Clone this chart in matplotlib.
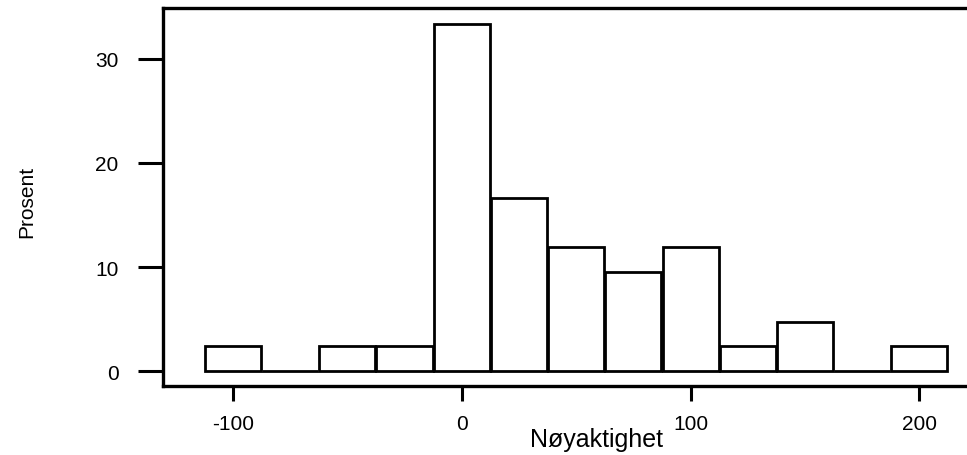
import matplotlib
matplotlib.use("Agg")
import matplotlib.pyplot as plt
import numpy as np

# bin midpoints (width 25) and percent of observations (n = 42)
midpoints = [-100, -75, -50, -25, 0, 25, 50, 75, 100, 125, 150, 175, 200]
percent = [2.38, 0, 2.38, 2.38, 33.33, 16.67, 11.90, 9.52, 11.90, 2.38, 4.76, 0, 2.38]
xticks = [-100, 0, 100, 200]
yticks = [0, 10, 20, 30]

plt.rcParams['font.family'] = ['Liberation Sans', 'DejaVu Sans']
plt.rcParams['axes.unicode_minus'] = False

fig = plt.figure(figsize=(9.67, 4.56), dpi=100)
ax = fig.add_axes([163/967, 69/456, 1 - 163/967 + 0.01, 378/456])

ax.bar(midpoints, percent, width=24.5, color='white', edgecolor='black', linewidth=2.0)

ax.set_xlim(-130.5, 225)
ax.set_ylim(-1.44, 34.9)
ax.set_xticks(xticks)
ax.set_yticks(yticks)
ax.tick_params(axis='y', length=18, width=2.2, pad=14, labelsize=15)
ax.tick_params(axis='x', length=11, width=2.2, pad=9, labelsize=15)

ax.spines['right'].set_visible(False)
for s in ['left', 'top', 'bottom']:
    ax.spines[s].set_linewidth(2.4)

ax.set_xlabel('Nøyaktighet', fontsize=18)
ax.xaxis.set_label_coords(0.533, -0.16)
ax.xaxis.label.set_va('baseline')
ax.set_ylabel('Prosent', fontsize=15)
ax.yaxis.set_label_coords(-0.168, 0.49)
ax.yaxis.label.set_va('center')

fig.savefig('out.png', dpi=100)
